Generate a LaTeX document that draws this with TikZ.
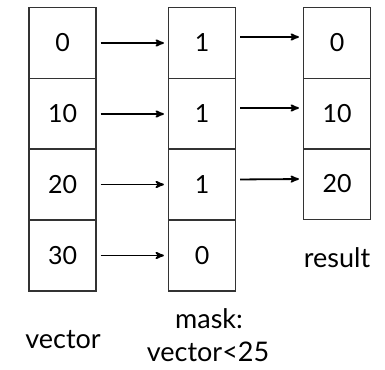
\documentclass[tikz,border=0pt]{standalone}
\usepackage{fontspec}
\setmainfont{Lato}
\usepackage{tikz}
\usetikzlibrary{arrows}
\usetikzlibrary{positioning}
\newcommand\defaultarrowstyle{stealth'}
\tikzset{>=\defaultarrowstyle}
\newcommand\linewd{1.2pt}
\tikzset{
  cell/.style={draw=black!80, line width=\linewd, minimum width=67pt, minimum height=71pt, inner sep=0pt, font=\fontsize{25}{30}\selectfont},
  caption/.style={font=\fontsize{27}{32}\selectfont, inner sep=0pt, align=center},
  link/.style={->, line width=1.8pt, shorten >=4pt, shorten <=4pt}
}
\begin{document}
\begin{tikzpicture}[x=1pt, y=-1pt]
  \useasboundingbox (0, 0) rectangle (385, 369);
  % vector
  \draw (62.5, 43) node[cell] (v0) {0};
  \draw (62.5, 114) node[cell] (v1) {10};
  \draw (62.5, 184.5) node[cell] (v2) {20};
  \draw (62.5, 255.5) node[cell] (v3) {30};
  % mask
  \draw (202, 43) node[cell] (m0) {1};
  \draw (202, 114) node[cell] (m1) {1};
  \draw (202, 184.5) node[cell] (m2) {1};
  \draw (202, 255.5) node[cell] (m3) {0};
  % result
  \draw (337, 43) node[cell] (r0) {0};
  \draw (337, 114) node[cell] (r1) {10};
  \draw (337, 184) node[cell] (r2) {20};
  \draw (337, 258) node[caption] (res) {result};
  \draw (63, 340) node[caption] (vec) {vector};
  \draw (209, 319) node[caption] (msk) {mask:};
  \draw (208, 352) node[caption] (cond) {vector<25};
    \draw (v0) -- (m0) [link];
    \draw (v1) -- (m1) [link];
    \draw (v2) -- (m2) [link];
    \draw (v3) -- (m3) [link];
    \draw ([yshift=6pt]m0.east) -- ([yshift=6pt]r0.west) [link];
    \draw ([yshift=6pt]m1.east) -- ([yshift=6pt]r1.west) [link];
    \draw ([yshift=5pt]m2.east) -- ([yshift=5pt]r2.west) [link];
\end{tikzpicture}
\end{document}
